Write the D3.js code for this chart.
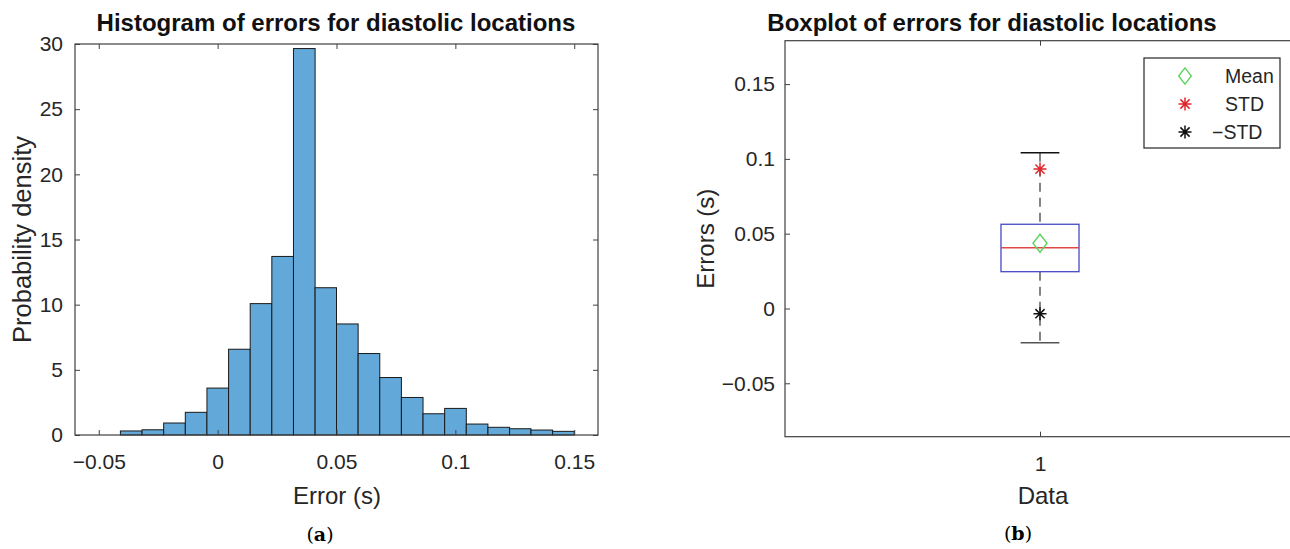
<!DOCTYPE html>
<meta charset="utf-8">
<style>
  body { margin: 0; background: #fff; }
  text { font-family: "Liberation Sans", Arial, sans-serif; fill: #262626; }
</style>
<svg width="1290" height="549"></svg>
<script src="https://cdn.jsdelivr.net/npm/d3@7"></script>
<script>
    // histogram (a)
    const binEdges = [-0.0409, -0.0318, -0.0227, -0.0136, -0.0045, 0.0046, 0.0137, 0.0228, 0.0319, 0.0410, 0.0500,
        0.0591, 0.0682, 0.0773, 0.0864, 0.0955, 0.1046, 0.1137, 0.1228, 0.1318, 0.1409, 0.1500]
    const density = [0.31, 0.40, 0.92, 1.74, 3.6, 6.58, 10.08, 13.7, 29.65, 11.3, 8.52, 6.25, 4.41, 2.88, 1.63, 2.04,
        0.84, 0.59, 0.48, 0.38, 0.28]
    const histXTicks = [-0.05, 0, 0.05, 0.1, 0.15]
    const histXLabels = ["\u22120.05", "0", "0.05", "0.1", "0.15"]
    const histYTicks = [0, 5, 10, 15, 20, 25, 30]

    // boxplot (b)
    const boxStats = { lowerWhisker: -0.0229, q1: 0.0246, median: 0.0406, q3: 0.0563, upperWhisker: 0.1041 }
    const meanVal = 0.0436
    const stdPlus = 0.0932
    const stdMinus = -0.0035
    const boxYTicks = [-0.05, 0, 0.05, 0.1, 0.15]
    const boxYLabels = ["\u22120.05", "0", "0.05", "0.1", "0.15"]
    const boxXLabels = ["1"]
    const legendNames = ["Mean", "STD", "\u2212STD"]

    const svg = d3.select("svg")
    const axisColor = "#404040"

    // ---------- left: histogram ----------
    var xL = d3.scaleLinear().domain([-0.06, 0.16]).range([75, 598]),
        yL = d3.scaleLinear().domain([0, 30]).range([435, 44]);

    const gL = svg.append("g")

    gL.selectAll("rect.bar")
        .data(density)
        .enter().append("rect")
        .attr("class", "bar")
        .attr("x", (d, i) => xL(binEdges[i]))
        .attr("width", (d, i) => xL(binEdges[i + 1]) - xL(binEdges[i]))
        .attr("y", d => yL(d))
        .attr("height", d => yL(0) - yL(d))
        .attr("fill", "#62a8d9")
        .attr("stroke", "#1a1a1a")
        .attr("stroke-width", 1)

    function styleAxis(g) {
        g.select(".domain").remove()
        g.selectAll(".tick line").attr("stroke", axisColor)
        g.selectAll(".tick text").style("font-size", "21px").attr("fill", "#262626")
    }

    gL.append("g").attr("transform", "translate(0,435)")
        .call(d3.axisBottom(xL).tickValues(histXTicks).tickFormat((d, i) => histXLabels[i]).tickSize(-5).tickPadding(19))
        .call(styleAxis)
    gL.append("g").attr("transform", "translate(0,44)")
        .call(d3.axisTop(xL).tickValues(histXTicks).tickFormat("").tickSize(-5))
        .call(styleAxis)
    gL.append("g").attr("transform", "translate(75,0)")
        .call(d3.axisLeft(yL).tickValues(histYTicks).tickSize(-5).tickPadding(12))
        .call(styleAxis)
    gL.append("g").attr("transform", "translate(598,0)")
        .call(d3.axisRight(yL).tickValues(histYTicks).tickFormat("").tickSize(-5))
        .call(styleAxis)

    gL.append("rect")
        .attr("x", 75).attr("y", 44).attr("width", 523).attr("height", 391)
        .attr("fill", "none").attr("stroke", axisColor).attr("stroke-width", 1.2)

    gL.append("text").attr("x", 336).attr("y", 31).attr("text-anchor", "middle")
        .style("font-size", "24px").style("font-weight", "bold").style("fill", "#111")
        .text("Histogram of errors for diastolic locations")
    gL.append("text").attr("x", 337).attr("y", 504).attr("text-anchor", "middle")
        .style("font-size", "24px").text("Error (s)")
    gL.append("text").attr("transform", "translate(31,239.5) rotate(-90)").attr("text-anchor", "middle")
        .style("font-size", "25.5px").text("Probability density")

    // ---------- right: boxplot ----------
    var xR = d3.scaleLinear().domain([0.5, 1.5]).range([785, 1295]),
        yR = d3.scaleLinear().domain([-0.0857, 0.179]).range([436.7, 40.7]);

    const gR = svg.append("g")
    const cx = xR(1), boxHalf = 0.0765, capHalf = 0.038

    gR.append("g").attr("transform", "translate(0,436.7)")
        .call(d3.axisBottom(xR).tickValues([1]).tickFormat((d, i) => boxXLabels[i]).tickSize(-5).tickPadding(19))
        .call(styleAxis)
    gR.append("g").attr("transform", "translate(0,40.7)")
        .call(d3.axisTop(xR).tickValues([1]).tickFormat("").tickSize(-5))
        .call(styleAxis)
    gR.append("g").attr("transform", "translate(785,0)")
        .call(d3.axisLeft(yR).tickValues(boxYTicks).tickFormat((d, i) => boxYLabels[i]).tickSize(-5).tickPadding(10))
        .call(styleAxis)

    gR.append("rect")
        .attr("x", 785).attr("y", 40.7).attr("width", 520).attr("height", 396)
        .attr("fill", "none").attr("stroke", axisColor).attr("stroke-width", 1.2)

    // whiskers
    gR.append("line").attr("x1", cx).attr("x2", cx)
        .attr("y1", yR(boxStats.upperWhisker)).attr("y2", yR(boxStats.q3))
        .attr("stroke", "#333").attr("stroke-width", 1.2).attr("stroke-dasharray", "9,6")
    gR.append("line").attr("x1", cx).attr("x2", cx)
        .attr("y1", yR(boxStats.q1)).attr("y2", yR(boxStats.lowerWhisker))
        .attr("stroke", "#333").attr("stroke-width", 1.2).attr("stroke-dasharray", "9,6")
    gR.append("line").attr("x1", xR(1 - capHalf)).attr("x2", xR(1 + capHalf))
        .attr("y1", yR(boxStats.upperWhisker)).attr("y2", yR(boxStats.upperWhisker))
        .attr("stroke", "#111").attr("stroke-width", 1.3)
    gR.append("line").attr("x1", xR(1 - capHalf)).attr("x2", xR(1 + capHalf))
        .attr("y1", yR(boxStats.lowerWhisker)).attr("y2", yR(boxStats.lowerWhisker))
        .attr("stroke", "#555").attr("stroke-width", 1.5)

    // box + median
    gR.append("rect")
        .attr("x", xR(1 - boxHalf)).attr("width", xR(1 + boxHalf) - xR(1 - boxHalf))
        .attr("y", yR(boxStats.q3)).attr("height", yR(boxStats.q1) - yR(boxStats.q3))
        .attr("fill", "none").attr("stroke", "#4848c8").attr("stroke-width", 1.3)
    gR.append("line").attr("x1", xR(1 - boxHalf)).attr("x2", xR(1 + boxHalf))
        .attr("y1", yR(boxStats.median)).attr("y2", yR(boxStats.median))
        .attr("stroke", "#e04848").attr("stroke-width", 1.3)

    function diamond(g, x, y, s) {
        const w = 7 * s, h = 9 * s
        g.append("path")
            .attr("d", `M${x},${y - h} L${x + w},${y} L${x},${y + h} L${x - w},${y} Z`)
            .attr("fill", "none").attr("stroke", "#5fd35f").attr("stroke-width", 1.4)
    }
    function star(g, x, y, color) {
        const r = 6.5, d = 4.6
        g.append("path")
            .attr("d", `M${x - r},${y} L${x + r},${y} M${x},${y - r} L${x},${y + r} M${x - d},${y - d} L${x + d},${y + d} M${x - d},${y + d} L${x + d},${y - d}`)
            .attr("stroke", color).attr("stroke-width", 1.5).attr("fill", "none")
    }

    diamond(gR, cx, yR(meanVal), 1)
    star(gR, cx, yR(stdPlus), "#e0262e")
    star(gR, cx, yR(stdMinus), "#111")

    gR.append("text").attr("x", 992).attr("y", 31).attr("text-anchor", "middle")
        .style("font-size", "24px").style("font-weight", "bold").style("fill", "#111")
        .text("Boxplot of errors for diastolic locations")
    gR.append("text").attr("x", 1043).attr("y", 504).attr("text-anchor", "middle")
        .style("font-size", "24px").text("Data")
    gR.append("text").attr("transform", "translate(714,238.7) rotate(-90)").attr("text-anchor", "middle")
        .style("font-size", "24px").text("Errors (s)")

    // legend
    const lg = gR.append("g")
    lg.append("rect").attr("x", 1144).attr("y", 58).attr("width", 136).attr("height", 90)
        .attr("fill", "#fff").attr("stroke", "#262626").attr("stroke-width", 1.2)
    const rowY = [76, 104, 132]
    diamond(lg, 1185, rowY[0], 0.9)
    star(lg, 1185, rowY[1], "#e0262e")
    star(lg, 1185, rowY[2], "#111")
    lg.selectAll("text.lab").data(legendNames).enter().append("text")
        .attr("class", "lab")
        .attr("x", (d, i) => i === 2 ? 1212 : 1225)
        .attr("y", (d, i) => rowY[i] + 7)
        .style("font-size", "19.5px")
        .text(d => d)

    // captions
    svg.selectAll("text.cap").data([["a", 320, 541], ["b", 1018, 540]]).enter().append("text")
        .attr("class", "cap")
        .attr("x", d => d[1]).attr("y", d => d[2]).attr("text-anchor", "middle")
        .style("font-family", "'DejaVu Serif', serif").style("font-size", "19px").style("fill", "#000")
        .html(d => `(<tspan font-weight="bold">${d[0]}</tspan>)`)
</script>
